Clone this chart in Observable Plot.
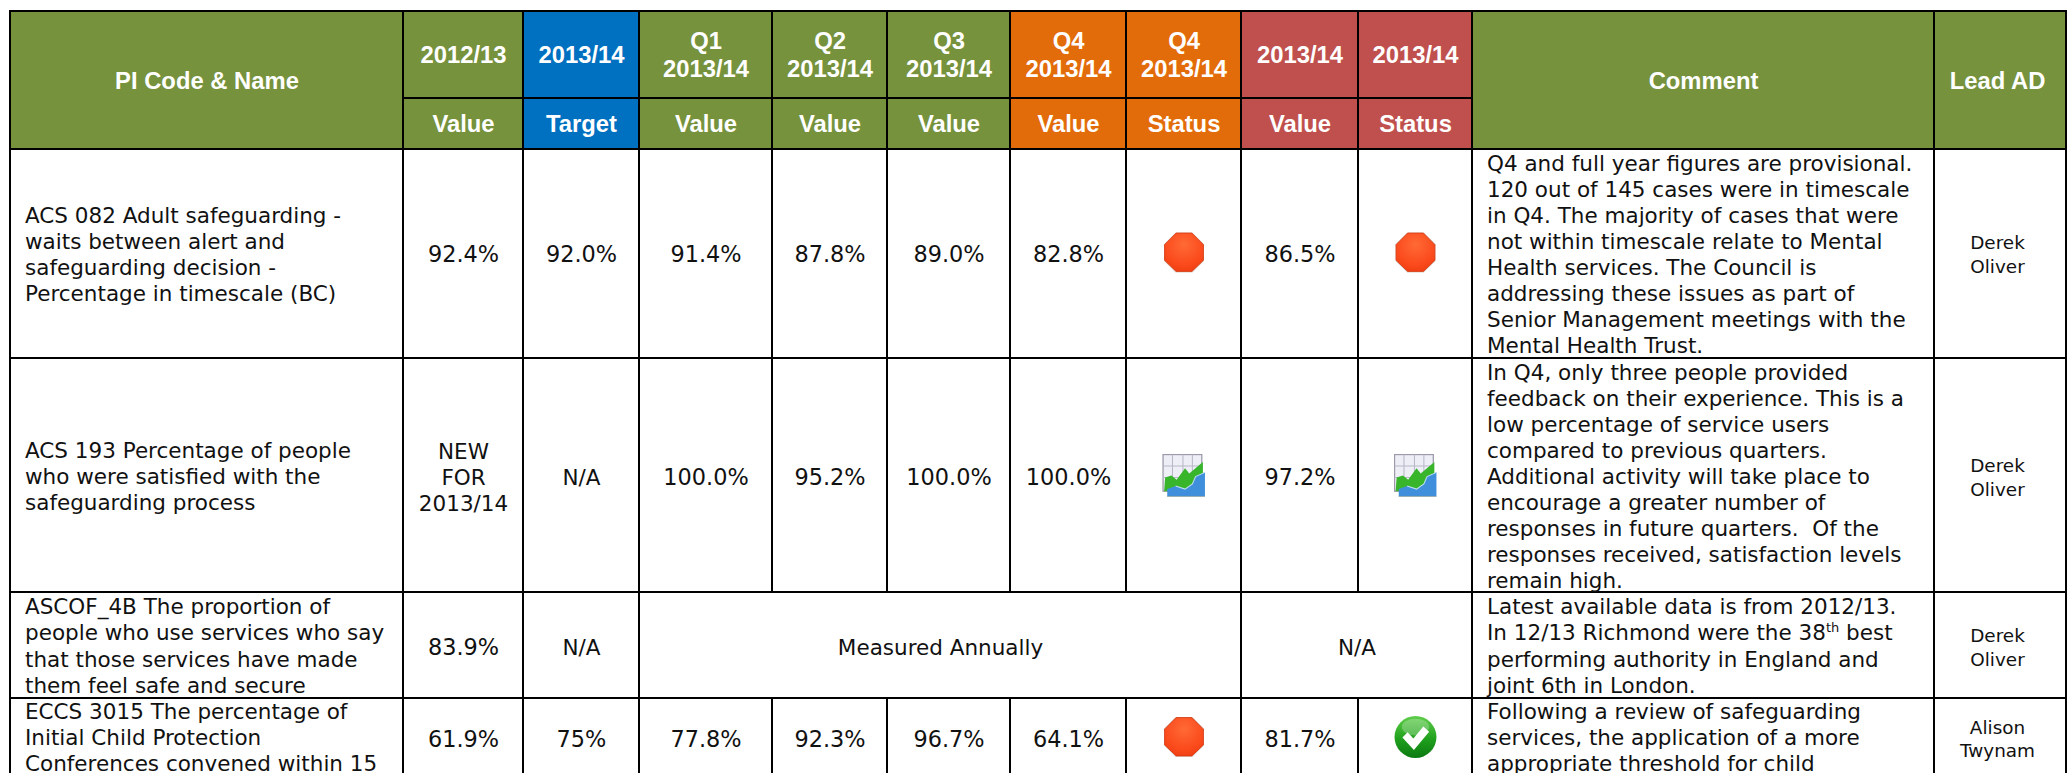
<!DOCTYPE html>
<html><head><meta charset="utf-8">
<style>html,body{margin:0;padding:0;background:#fff;overflow:hidden}svg{display:block}</style>
<script src="https://cdn.jsdelivr.net/npm/d3@7"></script>
<script src="https://cdn.jsdelivr.net/npm/@observablehq/plot@0.6"></script>
</head><body>
<script>
// ---------- table content ----------
const sideHeaders = ["PI Code & Name", "Comment", "Lead AD"];
const headerTop = ["2012/13","2013/14","Q1\n2013/14","Q2\n2013/14","Q3\n2013/14","Q4\n2013/14","Q4\n2013/14","2013/14","2013/14"];
const headerSub = ["Value","Target","Value","Value","Value","Value","Status","Value","Status"];
const piNames = [
  "ACS 082 Adult safeguarding -\nwaits between alert and\nsafeguarding decision -\nPercentage in timescale (BC)",
  "ACS 193 Percentage of people\nwho were satisfied with the\nsafeguarding process",
  "ASCOF_4B The proportion of\npeople who use services who say\nthat those services have made\nthem feel safe and secure",
  "ECCS 3015 The percentage of\nInitial Child Protection\nConferences convened within 15"
];
const value2012 = ["92.4%","NEW\nFOR\n2013/14","83.9%","61.9%"];
const target2013 = ["92.0%","N/A","N/A","75%"];
const q1Value = ["91.4%","100.0%",null,"77.8%"];
const q2Value = ["87.8%","95.2%",null,"92.3%"];
const q3Value = ["89.0%","100.0%",null,"96.7%"];
const q4Value = ["82.8%","100.0%",null,"64.1%"];
const q4Status = ["stop","chart",null,"stop"];
const yearValue = ["86.5%","97.2%",null,"81.7%"];
const yearStatus = ["stop","chart",null,"check"];
const spanText = "Measured Annually";
const spanNA = "N/A";
const comments = [
  "Q4 and full year figures are provisional.\n120 out of 145 cases were in timescale\nin Q4. The majority of cases that were\nnot within timescale relate to Mental\nHealth services. The Council is\naddressing these issues as part of\nSenior Management meetings with the\nMental Health Trust.",
  "In Q4, only three people provided\nfeedback on their experience. This is a\nlow percentage of service users\ncompared to previous quarters.\nAdditional activity will take place to\nencourage a greater number of\nresponses in future quarters.  Of the\nresponses received, satisfaction levels\nremain high.",
  "Latest available data is from 2012/13.\nIn 12/13 Richmond were the 38th best\nperforming authority in England and\njoint 6th in London.",
  "Following a review of safeguarding\nservices, the application of a more\nappropriate threshold for child"
];
const leads = ["Derek\nOliver","Derek\nOliver","Derek\nOliver","Alison\nTwynam"];

// ---------- layout (table geometry, on identity scales) ----------
const W = 2067, H = 773;
const colEdges = [10,403,523,639,772,887,1010,1126,1241,1358,1472,1934,2066];
const rowEdges = [11,98,149,358,592,698,800];
const rowMid = [253,476,646,737.5];
const longTextTop = {name:[204,439,595.5,700], comment:[152,361,595.5,700]};
const lastColCenter = 1997;
const icons = {stop:42, chart:44, check:43};
const palette = {green:"#76923C", blue:"#0070C0", orange:"#E36C0A", red:"#C0504D"};
const headerColors = ["green","blue","green","green","green","orange","orange","red","red"];
const HEAD = "Liberation Sans", BODY = "DejaVu Sans";

// ---------- status icons ----------
const svgURI = s => "data:image/svg+xml," + encodeURIComponent(s);
const iconSrc = {
 stop: svgURI(`<svg xmlns="http://www.w3.org/2000/svg" viewBox="0 0 40 40"><defs><radialGradient id="g" cx=".5" cy=".3" r=".75"><stop offset="0" stop-color="#ff6a35"/><stop offset=".7" stop-color="#fb4a1c"/><stop offset="1" stop-color="#ee3d10"/></radialGradient></defs><polygon points="12,1 28,1 39,12 39,28 28,39 12,39 1,28 1,12" fill="#d9d0cc"/><polygon points="12.5,1.5 27.5,1.5 38.5,12.5 38.5,27.5 27.5,38 12.5,38 1.5,27.5 1.5,12.5" fill="url(#g)" stroke="#d93c12" stroke-width=".8"/></svg>`),
 chart: svgURI(`<svg xmlns="http://www.w3.org/2000/svg" viewBox="0 0 42 42"><defs><filter id="b"><feGaussianBlur stdDeviation=".35"/></filter></defs><g filter="url(#b)"><rect x="1" y="1" width="37" height="35" fill="#eeeef6" stroke="#9c9aa8" stroke-width="1.2"/><g stroke="#b8b8c8" fill="none"><path d="M1 12H38M1 23H38M10 1V30M20 1V30M29 1V30"/></g><path d="M2 36 3 23 9 21 14 25 22 14 26 19 39 8 39 30 12 36Z" fill="#38b52c"/><path d="M5 41V34L13 31 22 34 29 29 32 22 41 18V41H5Z" fill="#3f8fdc"/><path d="M13 31 22 34 29 29 32 22 41 18" fill="none" stroke="#bfe0f0" stroke-width="1"/><path d="M5 41H41" stroke="#9aa" stroke-width=".8"/></g></svg>`),
 check: svgURI(`<svg xmlns="http://www.w3.org/2000/svg" viewBox="0 0 41 41"><defs><linearGradient id="c" x1="0" y1="0" x2="0" y2="1"><stop offset="0" stop-color="#5fce4a"/><stop offset=".55" stop-color="#1fa01c"/><stop offset="1" stop-color="#0c7a12"/></linearGradient></defs><circle cx="20.5" cy="20.5" r="20" fill="url(#c)"/><ellipse cx="20.5" cy="11" rx="13" ry="8" fill="#fff" fill-opacity=".25"/><path d="M8 21 13 16 18.5 22 28 10.5 33.5 15.5 19 33Z" fill="#fff"/></svg>`)
};

// ---------- cell tables built from the arrays ----------
const cols = [value2012,target2013,q1Value,q2Value,q3Value,q4Value,q4Status,yearValue,yearStatus];
const headerCells = [];
headerTop.forEach((t,i)=>{
  headerCells.push({c0:i+1,c1:i+2,r0:0,r1:1,color:headerColors[i],text:t});
  headerCells.push({c0:i+1,c1:i+2,r0:1,r1:2,color:headerColors[i],text:headerSub[i]});
});
headerCells.push({c0:0,c1:1,r0:0,r1:2,color:"green",text:sideHeaders[0]});
headerCells.push({c0:10,c1:11,r0:0,r1:2,color:"green",text:sideHeaders[1]});
headerCells.push({c0:11,c1:12,r0:0,r1:2,color:"green",text:sideHeaders[2]});

const bodyCells = [];
piNames.forEach((_,r)=>{
  bodyCells.push({c0:0,c1:1,r,text:null});
  bodyCells.push({c0:1,c1:2,r,text:value2012[r]});
  bodyCells.push({c0:2,c1:3,r,text:target2013[r]});
  if (q1Value[r]===null){
    bodyCells.push({c0:3,c1:8,r,text:spanText});
    bodyCells.push({c0:8,c1:10,r,text:spanNA});
  } else {
    [2,3,4,5,6,7,8].forEach(k=>{
      const v=cols[k][r];
      const isIcon = k===6||k===8;
      bodyCells.push({c0:k+1,c1:k+2,r,text:isIcon?null:v,icon:isIcon?v:null});
    });
  }
  bodyCells.push({c0:10,c1:11,r,text:null});
  bodyCells.push({c0:11,c1:12,r,text:null});
});
const cx = d => d.c0===11 ? lastColCenter : (colEdges[d.c0]+colEdges[d.c1])/2;
const headerCy = d => (rowEdges[d.r0]+rowEdges[d.r1])/2 - 1;
const iconCells = bodyCells.filter(d=>d.icon);
const textCells = bodyCells.filter(d=>d.text);
const nameRows = piNames.map((text,r)=>({text,r}));
const commentRows = comments.map((text,r)=>({text,r}));
const leadRows = leads.map((text,r)=>({text,r}));

const chart = Plot.plot({
  width:W, height:H, margin:0,
  x:{domain:[0,W],range:[0,W],axis:null},
  y:{domain:[0,H],range:[0,H],axis:null},
  style:{background:"#fff",color:"#000"},
  marks:[
    Plot.rect(headerCells,{x1:d=>colEdges[d.c0],x2:d=>colEdges[d.c1],y1:d=>rowEdges[d.r0],y2:d=>rowEdges[d.r1],fill:d=>palette[d.color],stroke:"#000",strokeWidth:2}),
    Plot.rect(bodyCells,{x1:d=>colEdges[d.c0],x2:d=>colEdges[d.c1],y1:d=>rowEdges[d.r+2],y2:d=>rowEdges[d.r+3],fill:"#fff",stroke:"#000",strokeWidth:2}),
    Plot.text(headerCells,{x:cx,y:headerCy,text:"text",fill:"#fff",fontFamily:HEAD,fontWeight:"bold",fontSize:23.8,lineHeight:1.18,lineAnchor:"middle"}),
    Plot.text(textCells,{x:cx,y:d=>rowMid[d.r],text:"text",fill:"#111",fontFamily:BODY,fontSize:d=>d.text.includes("%")?22.4:21.5,lineHeight:1.21,lineAnchor:"middle"}),
    Plot.text(nameRows,{x:colEdges[0]+14.5,y:d=>longTextTop.name[d.r],text:"text",textAnchor:"start",fill:"#111",fontFamily:BODY,fontSize:21.5,lineHeight:1.21,lineAnchor:"top"}),
    Plot.text(commentRows,{x:colEdges[10]+14.5,y:d=>longTextTop.comment[d.r],text:"text",textAnchor:"start",fill:"#111",fontFamily:BODY,fontSize:21.5,lineHeight:1.21,lineAnchor:"top"}),
    Plot.text(leadRows,{x:lastColCenter,y:d=>rowMid[d.r],text:"text",fill:"#111",fontFamily:BODY,fontSize:18.4,lineHeight:1.27,lineAnchor:"middle"}),
    Plot.image(iconCells,{x:cx,y:d=>rowMid[d.r]-1,src:d=>iconSrc[d.icon],width:d=>icons[d.icon],height:d=>icons[d.icon]})
  ]
});
// superscript "th" in the comment
d3.select(chart).selectAll("tspan").each(function(){
  const t=this.textContent;
  if(t.includes("38th best")){
    this.textContent="In 12/13 Richmond were the 38";
    const sel=d3.select(this);
    sel.append("tspan").attr("dy",-8).attr("font-size",13).text("th");
    sel.append("tspan").attr("dy",8).text(" best");
  }
});
document.body.appendChild(chart);
</script>
</body></html>
